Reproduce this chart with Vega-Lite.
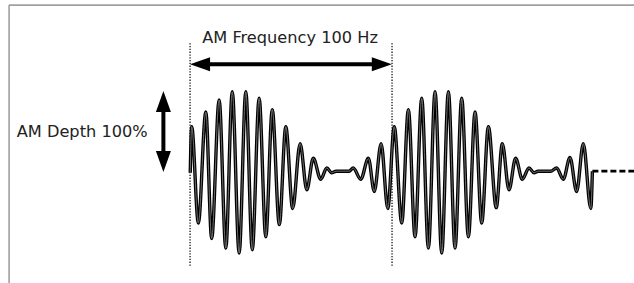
{
  "$schema": "https://vega.github.io/schema/vega-lite/v6.json",
  "width": 634,
  "height": 283,
  "autosize": {"type": "none"},
  "padding": 0,
  "background": "white",
  "config": {"view": {"stroke": null}},
  "datasets": {
    "wave": [
      {"t":0.01,"a":-0.01},{"t":0.08,"a":0.56},{"t":0.41,"a":-0.63},{"t":0.78,"a":0.74},
      {"t":1.07,"a":-0.82},{"t":1.44,"a":0.89},{"t":1.77,"a":-0.94},{"t":2.09,"a":0.99},
      {"t":2.43,"a":-1.0},{"t":2.76,"a":0.99},{"t":3.08,"a":-0.96},{"t":3.42,"a":0.91},
      {"t":3.75,"a":-0.80},{"t":4.07,"a":0.77},{"t":4.42,"a":-0.65},{"t":4.74,"a":0.56},
      {"t":5.08,"a":-0.45},{"t":5.45,"a":0.35},{"t":5.78,"a":-0.22},{"t":6.10,"a":0.17},
      {"t":6.47,"a":-0.09},{"t":6.77,"a":0.05},{"t":7.01,"a":-0.01},{"t":7.23,"a":0.01},
      {"t":7.87,"a":0.01},{"t":8.08,"a":0.05},{"t":8.45,"a":-0.09},{"t":8.83,"a":0.17},
      {"t":9.12,"a":-0.24},{"t":9.46,"a":0.35},{"t":9.79,"a":-0.45},{"t":10.11,"a":0.56},
      {"t":10.48,"a":-0.63},{"t":10.81,"a":0.77},{"t":11.14,"a":-0.80},{"t":11.47,"a":0.91},
      {"t":11.80,"a":-0.94},{"t":12.13,"a":0.99},{"t":12.46,"a":-1.0},{"t":12.79,"a":0.99},
      {"t":13.12,"a":-0.94},{"t":13.45,"a":0.91},{"t":13.78,"a":-0.80},{"t":14.11,"a":0.74},
      {"t":14.44,"a":-0.63},{"t":14.77,"a":0.56},{"t":15.16,"a":-0.44},{"t":15.46,"a":0.35},
      {"t":15.79,"a":-0.22},{"t":16.12,"a":0.17},{"t":16.45,"a":-0.09},{"t":16.78,"a":0.05},
      {"t":17.03,"a":-0.01},{"t":17.23,"a":0.01},{"t":17.87,"a":0.01},{"t":18.15,"a":0.05},
      {"t":18.48,"a":-0.09},{"t":18.81,"a":0.18},{"t":19.14,"a":-0.24},{"t":19.47,"a":0.35},
      {"t":19.84,"a":-0.45},{"t":19.92,"a":0.01}
    ],
    "tail": [{"t":19.92,"a":0.01},{"t":21.98,"a":0.01}],
    "guides": [{"t":0,"top":1.59,"bottom":-1.17},{"t":10,"top":1.59,"bottom":-1.17}],
    "frame": [
      {"t":-8.96,"t2":21.98,"a":2.06,"a2":2.06},
      {"t":-8.96,"t2":-8.96,"a":2.06,"a2":-1.37}
    ],
    "shafts": [
      {"t":0.6,"t2":9.4,"a":1.33,"a2":1.33},
      {"t":-1.32,"t2":-1.32,"a":0.8,"a2":0.2}
    ],
    "heads": [
      {"t":0.0,"a":1.33,"dir":"left"},
      {"t":9.99,"a":1.33,"dir":"right"},
      {"t":-1.32,"a":1.0,"dir":"up"},
      {"t":-1.32,"a":0.0,"dir":"down"}
    ],
    "titleLabel": [{"t":4.95,"a":1.59,"label":"AM Frequency 100 Hz"}],
    "depthLabel": [{"t":-8.58,"a":0.426,"label":"AM Depth 100%"}]
  },
  "layer": [
    {
      "data": {"name": "frame"},
      "mark": {"type": "rule", "color": "#a0a0a0", "strokeWidth": 1.6},
      "encoding": {
        "x": {"field": "t", "type": "quantitative", "scale": {"domain": [-9.41, 21.98], "nice": false, "zero": false}, "axis": null},
        "x2": {"field": "t2"},
        "y": {"field": "a", "type": "quantitative", "scale": {"domain": [-1.37, 2.123], "nice": false, "zero": false}, "axis": null},
        "y2": {"field": "a2"}
      }
    },
    {
      "data": {"name": "guides"},
      "mark": {"type": "rule", "color": "black", "strokeWidth": 1.2, "strokeDash": [1.3, 1.5]},
      "encoding": {
        "x": {"field": "t", "type": "quantitative", "scale": {"domain": [-9.41, 21.98], "nice": false, "zero": false}, "axis": null},
        "y": {"field": "top", "type": "quantitative", "scale": {"domain": [-1.37, 2.123], "nice": false, "zero": false}, "axis": null},
        "y2": {"field": "bottom"}
      }
    },
    {
      "data": {"name": "wave"},
      "mark": {"type": "line", "color": "black", "strokeWidth": 3.4, "interpolate": "monotone"},
      "encoding": {
        "x": {"field": "t", "type": "quantitative", "scale": {"domain": [-9.41, 21.98], "nice": false, "zero": false}, "axis": null},
        "y": {"field": "a", "type": "quantitative", "scale": {"domain": [-1.37, 2.123], "nice": false, "zero": false}, "axis": null}
      }
    },
    {
      "data": {"name": "wave"},
      "mark": {"type": "line", "color": "#8a8a8a", "strokeWidth": 0.8, "interpolate": "monotone"},
      "encoding": {
        "x": {"field": "t", "type": "quantitative", "scale": {"domain": [-9.41, 21.98], "nice": false, "zero": false}, "axis": null},
        "y": {"field": "a", "type": "quantitative", "scale": {"domain": [-1.37, 2.123], "nice": false, "zero": false}, "axis": null}
      }
    },
    {
      "data": {"name": "tail"},
      "mark": {"type": "line", "color": "black", "strokeWidth": 2.8, "strokeDash": [6, 3]},
      "encoding": {
        "x": {"field": "t", "type": "quantitative", "scale": {"domain": [-9.41, 21.98], "nice": false, "zero": false}, "axis": null},
        "y": {"field": "a", "type": "quantitative", "scale": {"domain": [-1.37, 2.123], "nice": false, "zero": false}, "axis": null}
      }
    },
    {
      "data": {"name": "shafts"},
      "mark": {"type": "rule", "color": "black", "strokeWidth": 4},
      "encoding": {
        "x": {"field": "t", "type": "quantitative", "scale": {"domain": [-9.41, 21.98], "nice": false, "zero": false}, "axis": null},
        "x2": {"field": "t2"},
        "y": {"field": "a", "type": "quantitative", "scale": {"domain": [-1.37, 2.123], "nice": false, "zero": false}, "axis": null},
        "y2": {"field": "a2"}
      }
    },
    {
      "data": {"name": "heads"},
      "mark": {"type": "point", "filled": true, "opacity": 1, "color": "black", "size": 400},
      "encoding": {
        "x": {"field": "t", "type": "quantitative", "scale": {"domain": [-9.41, 21.98], "nice": false, "zero": false}, "axis": null},
        "y": {"field": "a", "type": "quantitative", "scale": {"domain": [-1.37, 2.123], "nice": false, "zero": false}, "axis": null},
        "shape": {
          "field": "dir", "type": "nominal", "legend": null,
          "scale": {
            "domain": ["left", "right", "up", "down"],
            "range": ["M0,0L2,-0.7L2,0.7Z", "M0,0L-2,-0.7L-2,0.7Z", "M0,0L-0.75,2.1L0.75,2.1Z", "M0,0L-0.75,-2.1L0.75,-2.1Z"]
          }
        }
      }
    },
    {
      "data": {"name": "titleLabel"},
      "mark": {"type": "text", "font": "DejaVu Sans", "fontSize": 16.2, "color": "#222", "align": "center", "baseline": "alphabetic"},
      "encoding": {
        "x": {"field": "t", "type": "quantitative", "scale": {"domain": [-9.41, 21.98], "nice": false, "zero": false}, "axis": null},
        "y": {"field": "a", "type": "quantitative", "scale": {"domain": [-1.37, 2.123], "nice": false, "zero": false}, "axis": null},
        "text": {"field": "label"}
      }
    },
    {
      "data": {"name": "depthLabel"},
      "mark": {"type": "text", "font": "DejaVu Sans", "fontSize": 16.2, "color": "#222", "align": "left", "baseline": "alphabetic"},
      "encoding": {
        "x": {"field": "t", "type": "quantitative", "scale": {"domain": [-9.41, 21.98], "nice": false, "zero": false}, "axis": null},
        "y": {"field": "a", "type": "quantitative", "scale": {"domain": [-1.37, 2.123], "nice": false, "zero": false}, "axis": null},
        "text": {"field": "label"}
      }
    }
  ]
}
